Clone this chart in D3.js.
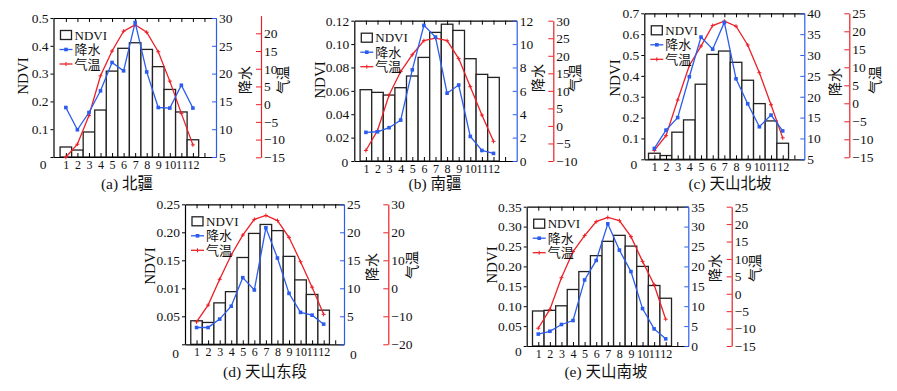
<!DOCTYPE html>
<meta charset="utf-8">
<title>NDVI 降水 气温</title>
<head>
    <script src="https://d3js.org/d3.v7.min.js"></script>
    <style>
        body { margin: 0; background: #fff; }
        text { font-family: "Liberation Serif", "Noto Sans CJK SC", serif; fill: #111; }
    </style>
</head>
<body>
<script>

    var months = [1, 2, 3, 4, 5, 6, 7, 8, 9, 10, 11, 12];
    var xTicks = [1, 2, 3, 4, 5, 6, 7, 8, 9, 10, 11, 12, 13];

    // (a) 北疆
    var ndviA = [0.036, 0.025, 0.09, 0.169, 0.309, 0.391, 0.411, 0.387, 0.325, 0.243, 0.162, 0.062];
    var rainA = [13.9, 9.9, 13.0, 16.9, 22.0, 20.5, 29.2, 20.3, 13.9, 13.8, 17.9, 13.8];
    var tempA = [-15.0, -11.3, -3.2, 8.0, 15.0, 20.6, 22.4, 20.3, 14.8, 6.5, -2.6, -11.5];
    var ndviTicksA = [0, 0.1, 0.2, 0.3, 0.4, 0.5];
    var ndviLabelsA = ["0", "0.1", "0.2", "0.3", "0.4", "0.5"];
    var rainTicksA = [5, 10, 15, 20, 25, 30];
    var tempTicksA = [-15, -10, -5, 0, 5, 10, 15, 20];

    // (b) 南疆
    var ndviB = [0.061, 0.0587, 0.0564, 0.0627, 0.0727, 0.0886, 0.110, 0.117, 0.1117, 0.0875, 0.0741, 0.0715];
    var rainB = [2.45, 2.5, 2.85, 3.5, 7.8, 11.6, 10.6, 5.8, 6.5, 2.1, 0.9, 0.65];
    var tempB = [-7.0, -1.3, 8.8, 15.5, 20.3, 24.3, 25.0, 24.3, 19.2, 11.2, 3.1, -4.4];
    var ndviTicksB = [0, 0.02, 0.04, 0.06, 0.08, 0.10, 0.12];
    var ndviLabelsB = ["0", "0.02", "0.04", "0.06", "0.08", "0.10", "0.12"];
    var rainTicksB = [0, 2, 4, 6, 8, 10, 12];
    var tempTicksB = [-10, -5, 0, 5, 10, 15, 20, 25, 30];

    // (c) 天山北坡
    var ndviC = [0.029, 0.018, 0.13, 0.189, 0.36, 0.503, 0.519, 0.465, 0.379, 0.267, 0.184, 0.077];
    var rainC = [7.6, 12.0, 15.0, 24.8, 34.3, 31.4, 37.8, 24.3, 18.3, 12.8, 15.6, 11.8];
    var tempC = [-13.1, -9.0, 0.9, 10.5, 15.9, 21.6, 22.8, 21.4, 16.2, 8.5, -0.4, -9.6];
    var ndviTicksC = [0, 0.1, 0.2, 0.3, 0.4, 0.5, 0.6, 0.7];
    var ndviLabelsC = ["0", "0.1", "0.2", "0.3", "0.4", "0.5", "0.6", "0.7"];
    var rainTicksC = [5, 10, 15, 20, 25, 30, 35, 40];
    var tempTicksC = [-15, -10, -5, 0, 5, 10, 15, 20, 25];

    // (d) 天山东段
    var ndviD = [0.042, 0.039, 0.074, 0.094, 0.155, 0.198, 0.214, 0.203, 0.157, 0.115, 0.089, 0.061];
    var rainD = [3.0, 3.0, 4.5, 6.8, 11.9, 9.7, 20.8, 15.4, 9.1, 5.7, 5.2, 3.6];
    var tempD = [-12.0, -6.0, 3.2, 11.9, 19.0, 24.6, 26.0, 24.2, 18.2, 9.5, 0.4, -9.3];
    var ndviTicksD = [0, 0.05, 0.10, 0.15, 0.20, 0.25];
    var ndviLabelsD = ["0", "0.05", "0.01", "0.15", "0.20", "0.25"];
    var rainTicksD = [0, 5, 10, 15, 20, 25];
    var tempTicksD = [-20, -10, 0, 10, 20, 30];

    // (e) 天山南坡
    var ndviE = [0.088, 0.0896, 0.101, 0.142, 0.187, 0.227, 0.263, 0.278, 0.251, 0.200, 0.152, 0.120];
    var rainE = [3.0, 3.7, 5.4, 6.4, 16.6, 21.5, 30.7, 24.1, 18.7, 9.4, 4.3, 1.8];
    var tempE = [-9.9, -4.5, 4.6, 12.1, 16.7, 20.7, 21.9, 21.0, 16.4, 9.3, 2.6, -7.3];
    var ndviTicksE = [0, 0.05, 0.10, 0.15, 0.20, 0.25, 0.30, 0.35];
    var ndviLabelsE = ["0", "0.05", "0.10", "0.15", "0.20", "0.25", "0.30", "0.35"];
    var rainTicksE = [0, 5, 10, 15, 20, 25, 30, 35];
    var tempTicksE = [-15, -10, -5, 0, 5, 10, 15, 20, 25];

    var blue = "#2b5ced", red = "#ec2027", ink = "#222";

    var panels = [
        {ndvi: ndviA, rain: rainA, temp: tempA, ndviTicks: ndviTicksA, ndviLabels: ndviLabelsA,
            rainTicks: rainTicksA, tempTicks: tempTicksA, caption: "(a) 北疆",
            left: 53.5, right: 216, top: 18, bottom: 157, redX: 261, redTop: 15.6, redBottom: 157.3,
            xDom: [-0.07, 14], ndviDom: [0, 0.5], rainDom: [5, 30], tempDom: [-15, 25],
            zeroDy: 6, zeroDx: -2, blueZeroDy: 0,
            capX: 127, capY: 189, t1: [23, 76], t2: [245, 80], t3: [283, 80]},
        {ndvi: ndviB, rain: rainB, temp: tempB, ndviTicks: ndviTicksB, ndviLabels: ndviLabelsB,
            rainTicks: rainTicksB, tempTicks: tempTicksB, caption: "(b) 南疆",
            left: 354.3, right: 516.7, top: 20.7, bottom: 161, redX: 553.3, redTop: 20.7, redBottom: 161,
            xDom: [0, 14], ndviDom: [0, 0.12], rainDom: [0, 12], tempDom: [-10, 30],
            zeroDy: 0, zeroDx: -1, blueZeroDy: 0,
            capX: 435, capY: 189, t1: [320, 80], t2: [538, 78], t3: [575, 78]},
        {ndvi: ndviC, rain: rainC, temp: tempC, ndviTicks: ndviTicksC, ndviLabels: ndviLabelsC,
            rainTicks: rainTicksC, tempTicks: tempTicksC, caption: "(c) 天山北坡",
            left: 644.3, right: 804.3, top: 13.3, bottom: 159.3, redX: 849.3, redTop: 13.3, redBottom: 157.3,
            xDom: [0.14, 13.85], ndviDom: [0, 0.7], rainDom: [5, 40], tempDom: [-15, 25],
            zeroDy: 4, zeroDx: -2, blueZeroDy: 0,
            capX: 730, capY: 189, t1: [615, 78], t2: [835, 82], t3: [875, 80]},
        {ndvi: ndviD, rain: rainD, temp: tempD, ndviTicks: ndviTicksD, ndviLabels: ndviLabelsD,
            rainTicks: rainTicksD, tempTicks: tempTicksD, caption: "(d) 天山东段",
            left: 185, right: 344, top: 204.3, bottom: 344.3, redX: 388.3, redTop: 204.3, redBottom: 344.3,
            xDom: [0, 13.76], ndviDom: [0, 0.25], rainDom: [0, 25], tempDom: [-20, 30],
            zeroDy: 8, zeroDx: -1, blueZeroDy: 10,
            capX: 265, capY: 377, t1: [150, 266], t2: [372, 267], t3: [412, 265]},
        {ndvi: ndviE, rain: rainE, temp: tempE, ndviTicks: ndviTicksE, ndviLabels: ndviLabelsE,
            rainTicks: rainTicksE, tempTicks: tempTicksE, caption: "(e) 天山南坡",
            left: 526.7, right: 688.3, top: 206.7, bottom: 346, redX: 731.7, redTop: 206.7, redBottom: 346,
            xDom: [0, 13.95], ndviDom: [0, 0.35], rainDom: [0, 35], tempDom: [-15, 25],
            zeroDy: 4, zeroDx: 0, blueZeroDy: 0,
            capX: 606, capY: 377, t1: [492, 265], t2: [715, 268], t3: [755, 268]}
    ];

    var svg = d3.select("body").append("svg")
            .attr("width", 897)
            .attr("height", 391);

    panels.forEach(drawPanel);

    function styleAxis(sel, color, size) {
        sel.attr("font-family", null).attr("font-size", size || 13.5);
        sel.select(".domain").attr("stroke", color).attr("stroke-width", 1.2);
        sel.selectAll(".tick line").attr("stroke", color).attr("stroke-width", 1);
        sel.selectAll(".tick text").attr("fill", "#111");
    }

    function drawPanel(p) {
        var g = svg.append("g");
        var x = d3.scaleLinear().domain(p.xDom).range([p.left, p.right]);
        var y = d3.scaleLinear().domain(p.ndviDom).range([p.bottom, p.top]);
        var yr = d3.scaleLinear().domain(p.rainDom).range([p.bottom, p.top]);
        var yt = d3.scaleLinear().domain(p.tempDom).range([p.redBottom, p.redTop]);
        var bw = x(1) - x(0);

        // NDVI bars
        g.selectAll("rect.bar").data(months).join("rect")
                .attr("class", "bar")
                .attr("x", function (d) { return x(d) - bw / 2; })
                .attr("width", bw)
                .attr("y", function (d, i) { return y(p.ndvi[i]); })
                .attr("height", function (d, i) { return p.bottom - y(p.ndvi[i]); })
                .attr("fill", "#fff")
                .attr("stroke", ink)
                .attr("stroke-width", 1.3);

        // frame: bottom / top month axes
        g.append("g").attr("transform", "translate(0," + p.bottom + ")")
                .call(d3.axisBottom(x).tickValues(xTicks).tickSize(-4).tickSizeOuter(0).tickPadding(3.5)
                        .tickFormat(function (d) { return d <= 12 ? d : ""; }))
                .call(function (s) { styleAxis(s, "#000", 12); });
        g.append("g").attr("transform", "translate(0," + p.top + ")")
                .call(d3.axisTop(x).tickValues(xTicks).tickSize(-4).tickSizeOuter(0).tickFormat(""))
                .call(function (s) { styleAxis(s, "#000"); });

        // left NDVI axis
        var la = g.append("g").attr("transform", "translate(" + p.left + ",0)")
                .call(d3.axisLeft(y).tickValues(p.ndviTicks).tickSize(3).tickSizeOuter(0).tickPadding(2)
                        .tickFormat(function (d, i) { return p.ndviLabels[i]; }))
                .call(function (s) { styleAxis(s, "#000"); });
        la.selectAll(".tick").filter(function (d) { return d === 0; }).select("text")
                .attr("dy", null).attr("y", p.zeroDy + 5).attr("x", -5 + p.zeroDx);

        // blue precipitation axis
        var ba = g.append("g").attr("transform", "translate(" + p.right + ",0)")
                .call(d3.axisRight(yr).tickValues(p.rainTicks).tickSize(-4).tickSizeOuter(0).tickPadding(3))
                .call(function (s) { styleAxis(s, blue); });
        if (p.blueZeroDy) {
            ba.selectAll(".tick").filter(function (d) { return d === 0; }).select("text")
                    .attr("y", p.blueZeroDy).attr("x", 6);
        }

        // red temperature axis
        g.append("g").attr("transform", "translate(" + p.redX + ",0)")
                .call(d3.axisRight(yt).tickValues(p.tempTicks).tickSize(-5).tickSizeOuter(0).tickPadding(3))
                .call(function (s) { styleAxis(s, red); });

        // temperature line
        var tl = d3.line().x(function (d) { return x(d); }).y(function (d, i) { return yt(p.temp[i]); });
        g.append("path").datum(months).attr("d", tl)
                .attr("fill", "none").attr("stroke", red).attr("stroke-width", 1.3);
        g.selectAll("path.tm").data(months).join("path")
                .attr("class", "tm")
                .attr("d", function (d, i) {
                    var cx = x(d), cy = yt(p.temp[i]);
                    return "M" + (cx - 2) + "," + cy + "H" + (cx + 2) + "M" + cx + "," + (cy - 2) + "V" + (cy + 2);
                })
                .attr("stroke", red).attr("stroke-width", 1);

        // precipitation line
        var rl = d3.line().x(function (d) { return x(d); }).y(function (d, i) { return yr(p.rain[i]); });
        g.append("path").datum(months).attr("d", rl)
                .attr("fill", "none").attr("stroke", blue).attr("stroke-width", 1.3);
        g.selectAll("rect.rm").data(months).join("rect")
                .attr("class", "rm")
                .attr("x", function (d) { return x(d) - 1.8; })
                .attr("y", function (d, i) { return yr(p.rain[i]) - 1.8; })
                .attr("width", 3.6).attr("height", 3.6)
                .attr("fill", blue);

        // legend
        var lx = p.left + 7, ly = p.top + 17;
        g.append("rect").attr("x", lx).attr("y", ly - 4.5).attr("width", 11).attr("height", 9)
                .attr("fill", "#fff").attr("stroke", ink).attr("stroke-width", 1.3);
        g.append("line").attr("x1", lx - 1).attr("x2", lx + 12).attr("y1", ly + 14.5).attr("y2", ly + 14.5)
                .attr("stroke", blue).attr("stroke-width", 1.3);
        g.append("rect").attr("x", lx + 3.7).attr("y", ly + 12.7).attr("width", 3.6).attr("height", 3.6).attr("fill", blue);
        g.append("line").attr("x1", lx - 1).attr("x2", lx + 12).attr("y1", ly + 29).attr("y2", ly + 29)
                .attr("stroke", red).attr("stroke-width", 1.3);
        g.append("path").attr("d", "M" + (lx + 5.5) + "," + (ly + 27) + "V" + (ly + 31))
                .attr("stroke", red).attr("stroke-width", 1);
        var legText = ["NDVI", "降水", "气温"];
        g.selectAll("text.leg").data(legText).join("text")
                .attr("class", "leg")
                .attr("x", lx + 14)
                .attr("y", function (d, i) { return ly + i * 14.5; })
                .attr("dy", "0.36em")
                .attr("font-size", 13)
                .text(function (d) { return d; });

        // axis titles
        var titles = [["NDVI", p.t1, 15], ["降水", p.t2, 14], ["气温", p.t3, 14]];
        titles.forEach(function (t) {
            g.append("text")
                    .attr("transform", "translate(" + t[1][0] + "," + t[1][1] + ") rotate(-90)")
                    .attr("text-anchor", "middle")
                    .attr("dy", "0.35em")
                    .attr("font-size", t[2])
                    .text(t[0]);
        });

        // caption
        g.append("text").attr("x", p.capX).attr("y", p.capY)
                .attr("text-anchor", "middle").attr("font-size", 15.5)
                .text(p.caption);
    }

</script>
</body>
